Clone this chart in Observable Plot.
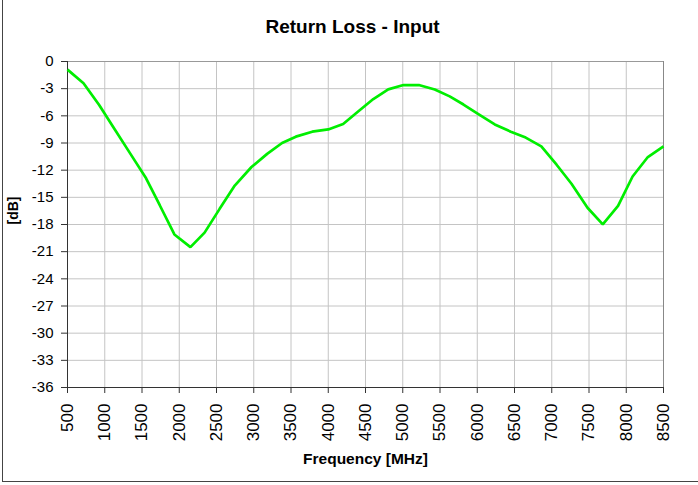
<!DOCTYPE html>
<html>
<head>
<meta charset="utf-8">
<script src="https://cdn.jsdelivr.net/npm/d3@7"></script>
<script src="https://cdn.jsdelivr.net/npm/@observablehq/plot@0.6"></script>
<style>
  html, body { margin: 0; padding: 0; background: #fff; overflow: hidden; }
  #wrap { position: relative; width: 698px; height: 485px; overflow: hidden; font-family: "Liberation Sans", Arial, sans-serif; }
  #frame { position: absolute; left: 2px; top: -10px; width: 800px; height: 492px; border: 1px solid #444; box-sizing: border-box; }
  #title { position: absolute; top: 17px; left: 0; width: 705px; text-align: center; font-weight: bold; font-size: 19px; line-height: 19px; color: #000; }
  #chart { position: absolute; left: 0; top: 45px; }
</style>
</head>
<body>
<div id="wrap">
  <div id="frame"></div>
  <div id="title">Return Loss - Input</div>
  <div id="chart"></div>
</div>
<script>
const titleText = "Return Loss - Input";
const xLabel = "Frequency [MHz]";
const yLabel = "[dB]";

const freqMHz = [500, 715, 925, 1135, 1345, 1555, 1740, 1935, 2150, 2340, 2540, 2745, 2970, 3180, 3380, 3565, 3785, 4000, 4200, 4405, 4605, 4805, 5010, 5215, 5430, 5630, 5815, 6015, 6235, 6450, 6650, 6860, 7065, 7265, 7480, 7685, 7890, 8085, 8290, 8500];
const returnLossDb = [-0.9, -2.4, -4.8, -7.5, -10.2, -12.9, -15.9, -19.1, -20.5, -18.9, -16.3, -13.7, -11.65, -10.2, -9.0, -8.3, -7.75, -7.5, -6.9, -5.5, -4.15, -3.08, -2.6, -2.6, -3.1, -3.85, -4.75, -5.8, -6.95, -7.75, -8.4, -9.37, -11.4, -13.5, -16.15, -17.98, -15.95, -12.7, -10.55, -9.37];

const xTicks = d3.range(500, 8501, 500);
const yTicks = d3.range(0, -36.1, -3);

const data = freqMHz.map((f, i) => ({f, v: returnLossDb[i]}));

const gridColor = "#c4c4c4";
const axisColor = "#333";

const plot = Plot.plot({
  width: 698,
  height: 440,
  marginLeft: 67,
  marginRight: 35,
  marginTop: 16,
  marginBottom: 98,
  style: {fontFamily: "'Liberation Sans', Arial, sans-serif", color: "#000", background: "transparent", overflow: "visible"},
  x: {domain: [500, 8500], ticks: xTicks},
  y: {domain: [-36, 0], ticks: yTicks},
  marks: [
    Plot.gridX(xTicks.filter(d => d > 500 && d < 8500), {stroke: gridColor, strokeOpacity: 1}),
    Plot.gridY(yTicks.filter(d => d < 0 && d > -36), {stroke: gridColor, strokeOpacity: 1}),
    Plot.ruleY([0], {stroke: "#999"}),
    Plot.ruleX([8500], {stroke: "#888"}),
    Plot.ruleX([500], {stroke: axisColor}),
    Plot.ruleY([-36], {stroke: axisColor}),
    Plot.axisY(yTicks, {tickSize: 6, tickPadding: 8, fontSize: 15, stroke: axisColor, fill: "#000", tickFormat: d => String(d), label: null}),
    Plot.axisX(xTicks, {tickSize: 6, tickPadding: 10, fontSize: 17, tickRotate: -90, stroke: axisColor, fill: "#000", tickFormat: d => String(d), label: null}),
    Plot.line(data, {x: "f", y: "v", stroke: "#00ee00", strokeWidth: 2.7, strokeLinejoin: "miter", strokeLinecap: "butt"}),
    Plot.text([xLabel], {frameAnchor: "bottom", dy: 76, lineAnchor: "bottom", text: d => d, fontSize: 15.5, fontWeight: "bold", fill: "#000"}),
    Plot.text([yLabel], {frameAnchor: "left", dx: -53.5, rotate: -90, lineAnchor: "middle", text: d => d, fontSize: 14, fontWeight: "bold", fill: "#000"})
  ]
});
document.getElementById("chart").appendChild(plot);
</script>
</body>
</html>
